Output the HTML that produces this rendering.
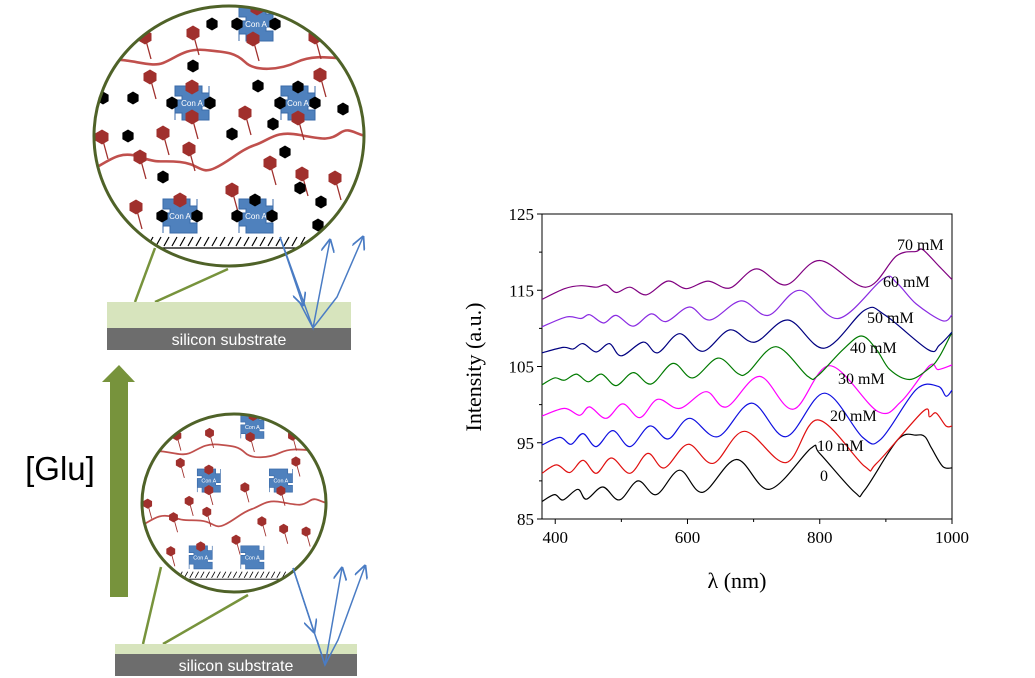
<!DOCTYPE html>
<html><head><meta charset="utf-8"><style>
html,body{margin:0;padding:0;background:#fff;}
body{width:1035px;height:678px;overflow:hidden;position:relative;font-family:"Liberation Sans",sans-serif;}
svg{position:absolute;left:0;top:0;}
</style></head><body>
<svg id="fig" width="1035" height="678" viewBox="0 0 1035 678">
 <defs>
  <clipPath id="c1"><ellipse cx="229" cy="136" rx="135" ry="130"/></clipPath>
  <clipPath id="c2"><ellipse cx="234" cy="503" rx="92" ry="89"/></clipPath>
  <marker id="ah" viewBox="0 0 10 10" refX="9" refY="5" markerWidth="9" markerHeight="9" orient="auto"><path d="M0,0 L10,5 L0,10" fill="none" stroke="#4a7cc4" stroke-width="1.3"/></marker>
 </defs>
 <g id="top-detail" clip-path="url(#c1)"></g>
 <ellipse cx="229" cy="136" rx="135" ry="130" fill="none" stroke="#4f6228" stroke-width="3"/>
 <line x1="135" y1="302" x2="155" y2="248" stroke="#77933c" stroke-width="2.5"/>
 <line x1="155" y1="302" x2="228" y2="269" stroke="#77933c" stroke-width="2.5"/>
 <rect x="107" y="302" width="244" height="26" fill="#d7e4bd"/>
 <rect x="107" y="328" width="244" height="22" fill="#6d6d6d"/>
 <text x="229" y="345" font-size="16" fill="#fff" text-anchor="middle" font-family="Liberation Sans, sans-serif">silicon substrate</text>
 <g fill="none" stroke="#4a7cc4" stroke-width="1.5">
  <polyline points="280,237 313,328 330,240" marker-end="url(#ah)"/>
  <polyline points="300,303 313,328 337,297 363,237" marker-end="url(#ah)"/>
  <line x1="280" y1="237" x2="303" y2="305" marker-end="url(#ah)"/>
 </g>
 <polygon points="110,597 128,597 128,382 135,382 119,365 102,382 110,382" fill="#77933c"/>
 <text x="60" y="480" font-size="33" text-anchor="middle" fill="#000" font-family="Liberation Sans, sans-serif">[Glu]</text>
 <g id="bot-detail" clip-path="url(#c2)"></g>
 <ellipse cx="234" cy="503" rx="92" ry="89" fill="none" stroke="#4f6228" stroke-width="3"/>
 <line x1="143" y1="644" x2="161" y2="567" stroke="#77933c" stroke-width="2.5"/>
 <line x1="163" y1="644" x2="248" y2="595" stroke="#77933c" stroke-width="2.5"/>
 <rect x="115" y="644" width="242" height="10" fill="#d7e4bd"/>
 <rect x="115" y="654" width="242" height="22" fill="#6d6d6d"/>
 <text x="236" y="671" font-size="16" fill="#fff" text-anchor="middle" font-family="Liberation Sans, sans-serif">silicon substrate</text>
 <g fill="none" stroke="#4a7cc4" stroke-width="1.5">
  <polyline points="293,568 325,665 342,568" marker-end="url(#ah)"/>
  <polyline points="317,640 325,665 338,640 365,566" marker-end="url(#ah)"/>
  <line x1="293" y1="568" x2="314" y2="632" marker-end="url(#ah)"/>
 </g>
 <g id="chart"></g>
</svg>
<script>
var NS='http://www.w3.org/2000/svg';
function mk(t,a,p){var e=document.createElementNS(NS,t);for(var k in a)e.setAttribute(k,a[k]);p.appendChild(e);return e;}

var redHex=[[145,37],[193,33],[253,39],[315,37],[150,77],[320,75],[192,87],[192,117],[245,113],[298,118],[102,137],[163,133],[140,157],[189,149],[270,163],[302,174],[335,178],[232,190],[136,207],[180,200],[257,8]];
var blackHex=[[212,24],[237,24],[275,24],[193,66],[258,86],[298,87],[103,98],[133,98],[172,103],[210,103],[280,103],[315,103],[343,109],[273,124],[128,136],[232,134],[285,152],[163,177],[300,188],[321,202],[318,225],[162,216],[197,216],[237,216],[272,216],[255,200]];
var conA=[[192,103],[298,103],[180,216],[256,216],[256,24]];
function hex(g,x,y,r,c){var p=[];for(var i=0;i<6;i++){var a=Math.PI/6+i*Math.PI/3;p.push((x+r*Math.cos(a)).toFixed(1)+','+(y+r*Math.sin(a)).toFixed(1));}return mk('polygon',{points:p.join(' '),fill:c},g);}
function detail(g,withBlack){
  var chains=['M110,60 C130,58 150,68 163,63 S185,48 205,50 S235,52 245,62 S280,70 297,62 S330,58 360,60',
   'M92,170 C110,160 120,150 140,157 S160,160 180,162 S200,175 215,168 S240,150 255,145 S275,130 300,135 S330,140 340,133 S355,135 370,137'];
  chains.forEach(function(d){var e=mk('path',{d:d,fill:'none',stroke:'#c0504d','stroke-width':2.6},g);});
  redHex.forEach(function(h){mk('line',{x1:h[0],y1:h[1],x2:h[0]+6,y2:h[1]+22,stroke:'#a0302d','stroke-width':1.3},g);});
  conA.forEach(function(c){
    var x=c[0],y=c[1];
    var e=mk('path',{d:'M'+(x-10)+','+(y-17)+' h20 v7 h7 v-7 h0 v20 h-7 v4 h7 v10 h-7 h0 v0 h-20 v-7 h-7 v7 h0 v-20 h7 v-4 h-7 v-10 z',fill:'#4f81bd',stroke:'#3a6aa8','stroke-width':1},g);
    
    var t=mk('text',{x:x,y:y+3,'font-size':8,fill:'#fff','text-anchor':'middle','font-family':'Liberation Sans, sans-serif'},g);t.textContent='Con A';
  });
  redHex.forEach(function(h){var e=hex(g,h[0],h[1],7.5,'#a0302d');});
  if(withBlack)blackHex.forEach(function(h){var e=hex(g,h[0],h[1],6.5,'#000');});
  var hp='';for(var x=148;x<310;x+=8)hp+='M'+x+',246 L'+(x+5)+',237 ';
  mk('path',{d:hp,stroke:'#000','stroke-width':1.2,fill:'none'},g);
  mk('line',{x1:145,y1:248,x2:310,y2:248,stroke:'#000','stroke-width':1.2},g);
}
var gt=document.getElementById('top-detail');detail(gt,true);
var gb0=document.getElementById('bot-detail');
var gb=mk('g',{transform:'translate(234,503) scale(0.68) translate(-229,-136)'},gb0);detail(gb,false);

// ---------- chart data ----------
var xTicks=[400,600,800,1000];
var yTicks=[85,95,105,115,125];
var seriesNames=['0','10 mM','20 mM','30 mM','40 mM','50 mM','60 mM','70 mM'];
var seriesColors=['#000000','#e01010','#1010e0','#ff00ff','#007a00','#000080','#8a2be2','#800080'];
var s0=[[380,87.3],[399,88.2],[412,87.5],[434,88.9],[447,87.6],[472,89.2],[497,87.5],[525,90.0],[553,88.2],[588,91.4],[623,88.5],[674,92.8],[724,88.9],[787,94.3],[800,93.6],[853,88.5],[868,88.8],[918,95.4],[946,96.0],[959,95.8],[969,94.3],[986,91.9],[1000,91.7]];
var s10=[[380,91.0],[402,92.1],[422,91.1],[442,92.7],[462,91.0],[485,93.0],[513,91.0],[540,93.6],[565,91.7],[601,94.8],[639,92.3],[686,96.5],[749,92.4],[797,98.0],[868,91.9],[886,92.3],[956,99.1],[966,98.4],[976,98.9],[991,97.2],[1000,97.2]];
var s20=[[380,94.7],[407,95.7],[424,94.8],[442,96.2],[462,94.5],[487,96.6],[513,94.5],[543,97.2],[571,95.5],[603,98.2],[646,95.8],[697,100.2],[749,95.8],[807,101.5],[865,95.7],[893,95.5],[946,102.0],[979,102.4],[991,101.1],[1000,101.9]];
var s30=[[380,98.5],[414,99.5],[437,98.6],[452,99.7],[477,98.2],[502,100.1],[528,98.3],[555,100.7],[588,99.5],[628,101.7],[659,99.7],[709,103.7],[760,99.4],[815,105.1],[888,99.1],[923,100.4],[966,105.1],[979,104.6],[1000,105.2]];
var s40=[[380,102.6],[399,103.5],[414,103.2],[432,104.0],[450,103.0],[470,104.0],[492,102.5],[518,104.2],[545,102.7],[578,105.4],[608,103.5],[646,106.1],[676,104.1],[691,104.2],[734,107.6],[782,103.7],[797,103.8],[835,107.2],[863,109.0],[886,107.2],[906,104.6],[936,103.3],[966,104.8],[981,106.3],[1000,109.5]];
var s50=[[380,106.8],[412,107.5],[427,107.3],[442,108.0],[462,106.9],[482,108.0],[500,106.4],[533,108.2],[555,106.8],[588,109.3],[623,107.0],[664,109.8],[702,108.2],[752,111.1],[807,107.4],[868,112.4],[898,111.8],[964,107.2],[981,107.8],[1000,109.5]];
var s60=[[380,110.2],[417,111.5],[439,111.3],[452,111.8],[473,110.7],[492,111.7],[518,110.3],[545,111.9],[568,110.9],[603,112.8],[634,111.1],[681,113.6],[722,111.7],[770,115.0],[828,111.3],[896,116.5],[916,116.0],[946,113.2],[986,111.0],[1000,111.8]];
var s70=[[380,113.8],[414,115.2],[439,115.6],[462,115.4],[477,115.7],[492,114.7],[513,115.4],[538,114.4],[570,116.2],[598,115.2],[631,116.2],[664,115.3],[704,117.8],[749,115.7],[800,118.9],[870,115.4],[916,119.5],[946,120.1],[956,120.3],[981,118.1],[1000,116.4]];
var allSeries=[s0,s10,s20,s30,s40,s50,s60,s70];
var labelPos=[[820,475],[817,445],[830,415],[838,378],[850,347],[867,317],[883,281],[897,244]];

var PL=542,PR=952,PT=214,PB=519,XMIN=380,XMAX=1000,YMIN=85,YMAX=125;
function sx(v){return PL+(v-XMIN)/(XMAX-XMIN)*(PR-PL);}
function sy(v){return PB-(v-YMIN)/(YMAX-YMIN)*(PB-PT);}
var ch=document.getElementById('chart');
var F='Liberation Serif, serif';
var frame=mk('rect',{x:PL,y:PT,width:PR-PL,height:PB-PT,fill:'none',stroke:'#000','stroke-width':1},ch);


xTicks.forEach(function(t){
  mk('line',{x1:sx(t),y1:PB,x2:sx(t),y2:PB+5,stroke:'#000'},ch);
  var tx=mk('text',{x:sx(t),y:PB+24,'font-size':17,'text-anchor':'middle','font-family':F},ch);
  
  
  tx.textContent=t;
});
for(var m=500;m<1000;m+=200){mk('line',{x1:sx(m),y1:PB,x2:sx(m),y2:PB+3,stroke:'#000'},ch);}
yTicks.forEach(function(t){
  mk('line',{x1:PL-5,y1:sy(t),x2:PL,y2:sy(t),stroke:'#000'},ch);
  var ty=mk('text',{x:PL-8,y:sy(t)+6,'font-size':17,'text-anchor':'end','font-family':F},ch);
  
  
  ty.textContent=t;
});
for(var yy=90;yy<125;yy+=10){mk('line',{x1:PL-3,y1:sy(yy),x2:PL,y2:sy(yy),stroke:'#000'},ch);}
var yt=mk('text',{x:0,y:0,'font-size':22,'text-anchor':'middle','font-family':F,transform:'translate(481,367) rotate(-90)'},ch);


yt.textContent='Intensity (a.u.)';
var xt=mk('text',{x:737,y:588,'font-size':22,'text-anchor':'middle','font-family':F},ch);


xt.textContent='λ (nm)';
function smooth(pts){
  var P=pts.map(function(p){return [sx(p[0]),sy(p[1])];});
  var d='M'+P[0][0].toFixed(1)+','+P[0][1].toFixed(1);
  for(var i=0;i<P.length-1;i++){
    var p0=P[i-1]||P[i],p1=P[i],p2=P[i+1],p3=P[i+2]||P[i+1];
    var c1=[p1[0]+(p2[0]-p0[0])/6,p1[1]+(p2[1]-p0[1])/6];
    var c2=[p2[0]-(p3[0]-p1[0])/6,p2[1]-(p3[1]-p1[1])/6];
    d+=' C'+c1[0].toFixed(1)+','+c1[1].toFixed(1)+' '+c2[0].toFixed(1)+','+c2[1].toFixed(1)+' '+p2[0].toFixed(1)+','+p2[1].toFixed(1);
  }
  return d;
}
allSeries.forEach(function(s,i){
  var p=mk('path',{d:smooth(s),fill:'none',stroke:seriesColors[i],'stroke-width':1.2},ch);
  
  
});
seriesNames.forEach(function(n,i){
  var t=mk('text',{x:labelPos[i][0],y:labelPos[i][1]+6,'font-size':16,'font-family':F},ch);
  
  
  t.textContent=n;
});
</script>
</body></html>
